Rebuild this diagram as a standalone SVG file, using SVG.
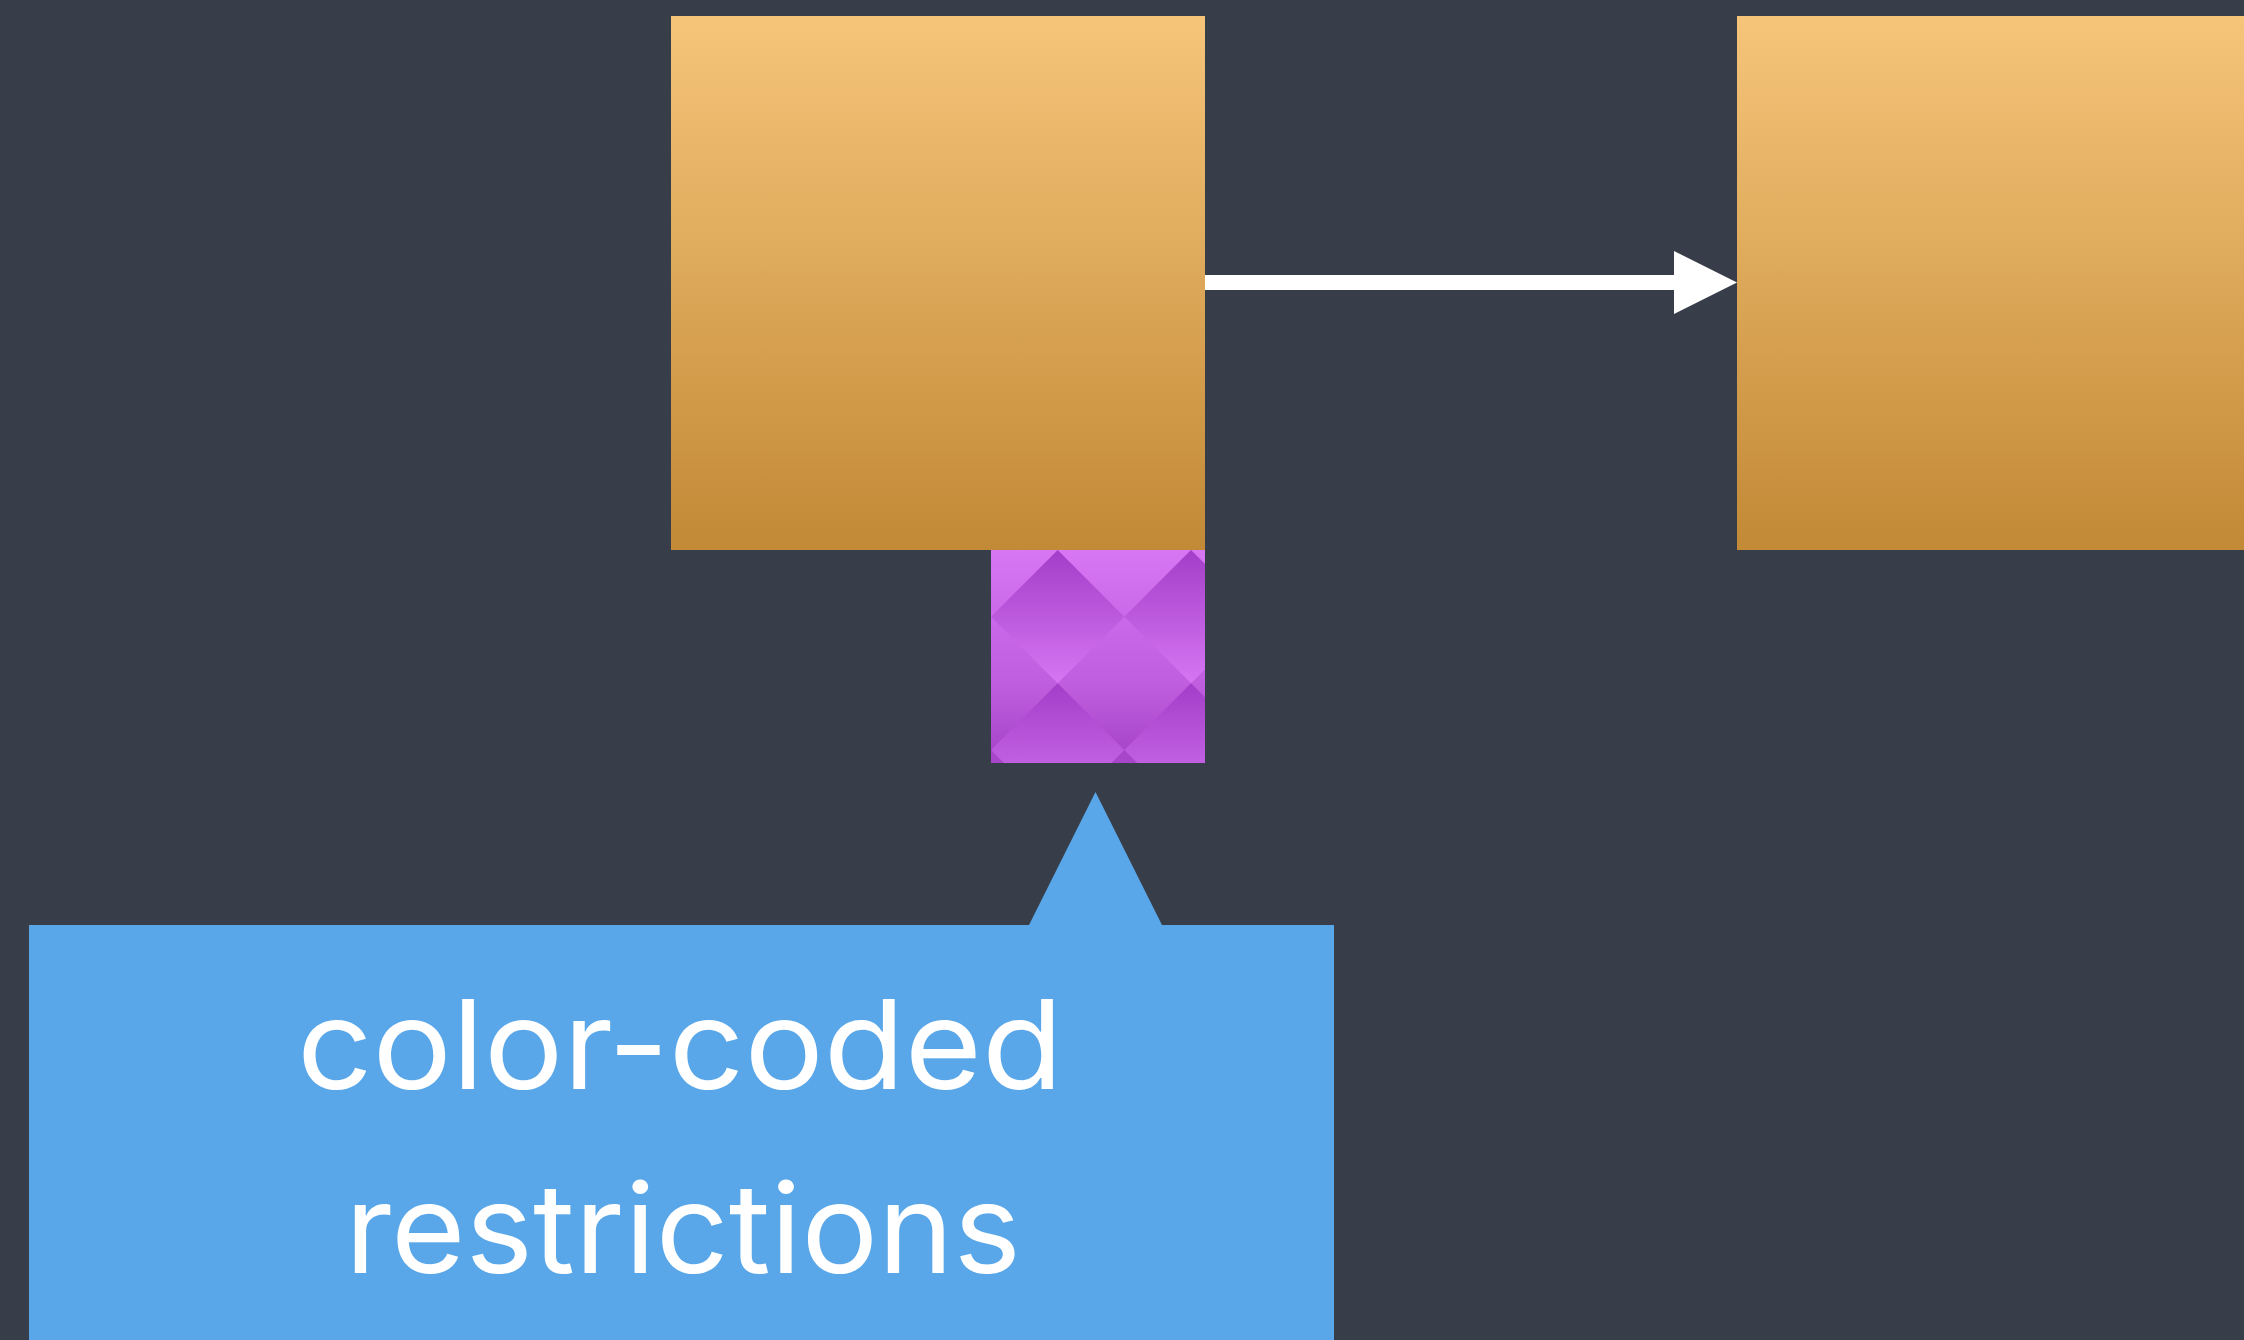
<svg xmlns="http://www.w3.org/2000/svg" width="2244" height="1340" viewBox="0 0 2244 1340">
  <style>
    .label { font-family: "Inter", "Noto Sans", "DejaVu Sans", sans-serif; font-size: 124px; fill: #ffffff; text-anchor: middle; }
    .box { fill: url(#orangeGrad); }
    .diamond { fill: url(#diamondGrad); }
  </style>
  <defs>
    <linearGradient id="orangeGrad" x1="0" y1="0" x2="0" y2="1">
      <stop offset="0" stop-color="#f6c57a"/>
      <stop offset="1" stop-color="#c28936"/>
    </linearGradient>
    <linearGradient id="purpleBg" gradientUnits="userSpaceOnUse" x1="0" y1="550" x2="0" y2="763">
      <stop offset="0" stop-color="#d777f4"/>
      <stop offset="0.31" stop-color="#ca69e9"/>
      <stop offset="0.625" stop-color="#bf5fdf"/>
      <stop offset="0.94" stop-color="#a846ca"/>
      <stop offset="1" stop-color="#a846ca"/>
    </linearGradient>
    <linearGradient id="diamondGrad" x1="0" y1="0" x2="0" y2="1">
      <stop offset="0" stop-color="#a23ec8"/>
      <stop offset="1" stop-color="#d676f3"/>
    </linearGradient>
    <clipPath id="restrClip">
      <rect x="991" y="550" width="214" height="213"/>
    </clipPath>
    <marker id="arrowHead" viewBox="0 0 63 63" refX="0" refY="31.5" markerUnits="userSpaceOnUse" markerWidth="63" markerHeight="63" orient="auto" overflow="visible">
      <polygon points="0,0 63,31.5 0,63" fill="#ffffff"/>
    </marker>
  </defs>

  <rect x="0" y="0" width="2244" height="1340" fill="#373e49"/>

  <g id="connectors">
    <line x1="1205" y1="282.5" x2="1674" y2="282.5" stroke="#ffffff" stroke-width="15" marker-end="url(#arrowHead)"/>
  </g>

  <g id="node-box1">
    <rect class="box" x="671" y="16" width="534" height="534"/>
  </g>

  <g id="node-box2">
    <rect class="box" x="1737" y="16" width="534" height="534"/>
  </g>

  <g id="node-restriction">
    <g clip-path="url(#restrClip)">
      <rect x="991" y="550" width="214" height="213" fill="url(#purpleBg)"/>
      <polygon class="diamond" points="1057.7,550 1124.3,616.7 1057.7,683.3 991,616.7"/>
      <polygon class="diamond" points="1191,550 1257.7,616.7 1191,683.3 1124.3,616.7"/>
      <polygon class="diamond" points="1057.7,683.3 1124.3,750 1057.7,816.7 991,750"/>
      <polygon class="diamond" points="1191,683.3 1257.7,750 1191,816.7 1124.3,750"/>
      <polygon class="diamond" points="924.3,550 991,616.7 924.3,683.3 857.7,616.7"/>
      <polygon class="diamond" points="924.3,683.3 991,750 924.3,816.7 857.7,750"/>
    </g>
  </g>

  <g id="node-callout">
    <path d="M29,925 L1029,925 L1095.5,792 L1162,925 L1334,925 L1334,1340 L29,1340 Z" fill="#59a7e8"/>
    <text class="label" x="680" y="1089" textLength="766" lengthAdjust="spacingAndGlyphs">color-coded</text>
    <text class="label" x="683" y="1273" textLength="676" lengthAdjust="spacingAndGlyphs">restrictions</text>
  </g>
</svg>
